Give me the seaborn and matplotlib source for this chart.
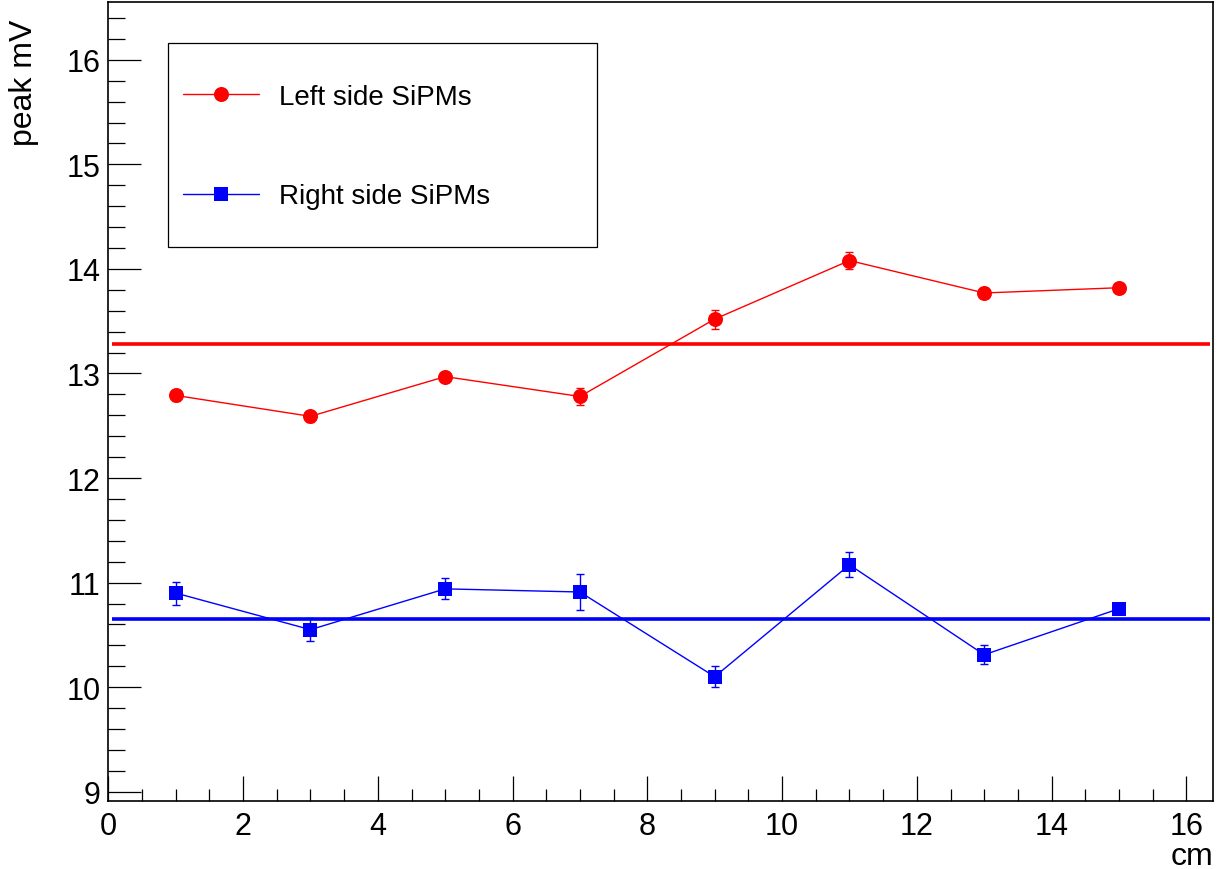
import matplotlib
matplotlib.use("Agg")
import matplotlib.pyplot as plt
import seaborn as sns
from matplotlib.patches import Rectangle
from matplotlib.ticker import MultipleLocator

# measurement positions (cm) and peak amplitudes (mV)
positions = [1, 3, 5, 7, 9, 11, 13, 15]
left_peak = [12.79, 12.59, 12.97, 12.78, 13.52, 14.08, 13.77, 13.82]
left_err = [0.05, 0.05, 0.04, 0.08, 0.09, 0.08, 0.05, 0.04]
right_peak = [10.90, 10.55, 10.94, 10.91, 10.10, 11.17, 10.31, 10.75]
right_err = [0.11, 0.11, 0.10, 0.17, 0.10, 0.12, 0.09, 0.05]

# constant fits
left_mean = 13.28
right_mean = 10.65
fit_range = [0.05, 16.35]

sns.set_style("white")
plt.rcParams['font.family'] = ['Liberation Sans', 'DejaVu Sans']
plt.rcParams['text.color'] = 'black'
plt.rcParams['axes.labelcolor'] = 'black'
plt.rcParams['xtick.color'] = 'black'
plt.rcParams['ytick.color'] = 'black'

fig, ax = plt.subplots(figsize=(12.17, 8.7), dpi=100)
fig.subplots_adjust(left=0.08899, right=0.99696, bottom=0.07851, top=0.99621)

ax.hlines(left_mean, fit_range[0], fit_range[1], color='red', linewidth=2.6, zorder=2)
ax.hlines(right_mean, fit_range[0], fit_range[1], color='blue', linewidth=2.6, zorder=2)

ax.errorbar(positions, left_peak, yerr=left_err, fmt='none', ecolor='red',
            elinewidth=1.0, capsize=3, capthick=1.0, zorder=3)
ax.errorbar(positions, right_peak, yerr=right_err, fmt='none', ecolor='blue',
            elinewidth=1.0, capsize=3, capthick=1.0, zorder=3)

sns.lineplot(x=positions, y=left_peak, ax=ax, color='red', marker='o',
             markersize=10.8, markeredgewidth=0, linewidth=1.0,
             label='Left side SiPMs', zorder=4)
sns.lineplot(x=positions, y=right_peak, ax=ax, color='blue', marker='s',
             markersize=10, markeredgewidth=0, linewidth=1.0,
             label='Right side SiPMs', zorder=4)

ax.set_xlim(0, 16.4)
ax.set_ylim(8.914, 16.55)

ax.xaxis.set_major_locator(MultipleLocator(2))
ax.xaxis.set_minor_locator(MultipleLocator(0.5))
ax.yaxis.set_major_locator(MultipleLocator(1))
ax.yaxis.set_minor_locator(MultipleLocator(0.2))

ax.tick_params(which='both', direction='in', bottom=True, left=True,
               top=False, right=False, width=0.9, color='black',
               labelcolor='black', labelsize=22)
ax.tick_params(axis='x', which='major', length=18, pad=7.2)
ax.tick_params(axis='x', which='minor', length=9)
ax.tick_params(axis='y', which='major', length=24, pad=5.6)
ax.tick_params(axis='y', which='minor', length=12)

for sp in ax.spines.values():
    sp.set_color('black')
    sp.set_linewidth(1.2)

ax.set_xlabel('cm', fontsize=23, loc='right')
ax.xaxis.set_label_coords(1.0, -0.05)
ax.set_ylabel('peak mV', fontsize=23, loc='top')
ax.yaxis.set_label_coords(-0.0627, 0.979)

# legend box drawn as its own frame, entries placed inside it
ax.add_patch(Rectangle((0.0543, 0.6939), 0.3877, 0.2547, transform=ax.transAxes,
                       facecolor='white', edgecolor='black', linewidth=0.9, zorder=5))
leg = ax.legend(loc='upper left', bbox_to_anchor=(0.0676, 0.8975), frameon=False,
                fontsize=20, borderpad=0, borderaxespad=0, handlelength=2.73,
                handletextpad=0.74, labelspacing=2.64)
leg.set_zorder(6)

fig.savefig('out.png', dpi=100)
